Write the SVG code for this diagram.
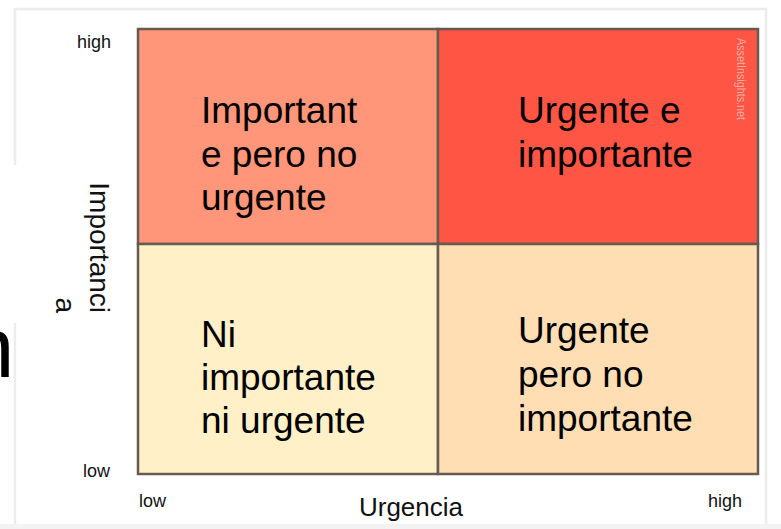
<svg xmlns="http://www.w3.org/2000/svg" width="781" height="529" viewBox="0 0 781 529">
<style>
.cell{stroke:#675a51;stroke-width:2.5}
.q{font-family:"Liberation Sans",Arial,sans-serif;font-size:37px;fill:#000}
.ax{font-family:"Liberation Sans",Arial,sans-serif;font-size:18px;fill:#111}
.frame{stroke:#ececec;stroke-width:2.5;fill:none}
</style>
<rect width="781" height="529" fill="#ffffff"/>
<g id="frame">
<path class="frame" d="M15,165 V9 H766 V529"/>
<path class="frame" d="M15,323 V529"/>
<rect x="0" y="524" width="781" height="5" fill="#f3f3f3"/>
</g>
<text x="-33" y="377" font-family="Liberation Sans,Arial,sans-serif" font-size="85" fill="#000">n</text>
<g id="q-important-not-urgent">
<rect class="cell" x="138" y="29" width="300" height="215" fill="#ff967a"/>
<text class="q" x="201" y="123">Important</text>
<text class="q" x="201" y="167">e pero no</text>
<text class="q" x="201" y="210">urgente</text>
</g>
<g id="q-urgent-important">
<rect class="cell" x="438" y="29" width="320" height="215" fill="#ff5544"/>
<text class="q" x="518" y="123">Urgente e</text>
<text class="q" x="518" y="167">importante</text>
<text transform="translate(737,38) rotate(90)" font-family="Liberation Sans,Arial,sans-serif" font-size="12" fill="#f4aaa0" textLength="82" lengthAdjust="spacingAndGlyphs">AssetInsights.net</text>
</g>
<g id="q-neither">
<rect class="cell" x="138" y="244" width="300" height="230" fill="#fff0c8"/>
<text class="q" x="201" y="347">Ni</text>
<text class="q" x="201" y="390">importante</text>
<text class="q" x="201" y="433">ni urgente</text>
</g>
<g id="q-urgent-not-important">
<rect class="cell" x="438" y="244" width="320" height="230" fill="#ffdeb4"/>
<text class="q" x="518" y="343">Urgente</text>
<text class="q" x="518" y="387">pero no</text>
<text class="q" x="518" y="431">importante</text>
</g>
<g id="axes">
<text class="ax" x="77" y="48">high</text>
<text class="ax" x="83" y="477">low</text>
<text class="ax" x="139" y="507">low</text>
<text class="ax" x="708" y="507">high</text>
<text x="411" y="516" text-anchor="middle" font-family="Liberation Sans,Arial,sans-serif" font-size="26" fill="#111">Urgencia</text>
<text transform="translate(90,0) rotate(90)" text-anchor="end" font-family="Liberation Sans,Arial,sans-serif" font-size="28" fill="#111"><tspan x="313" y="0">Importanci</tspan><tspan x="313" y="34">a</tspan></text>
</g>
<g id="connectors"></g>
</svg>
